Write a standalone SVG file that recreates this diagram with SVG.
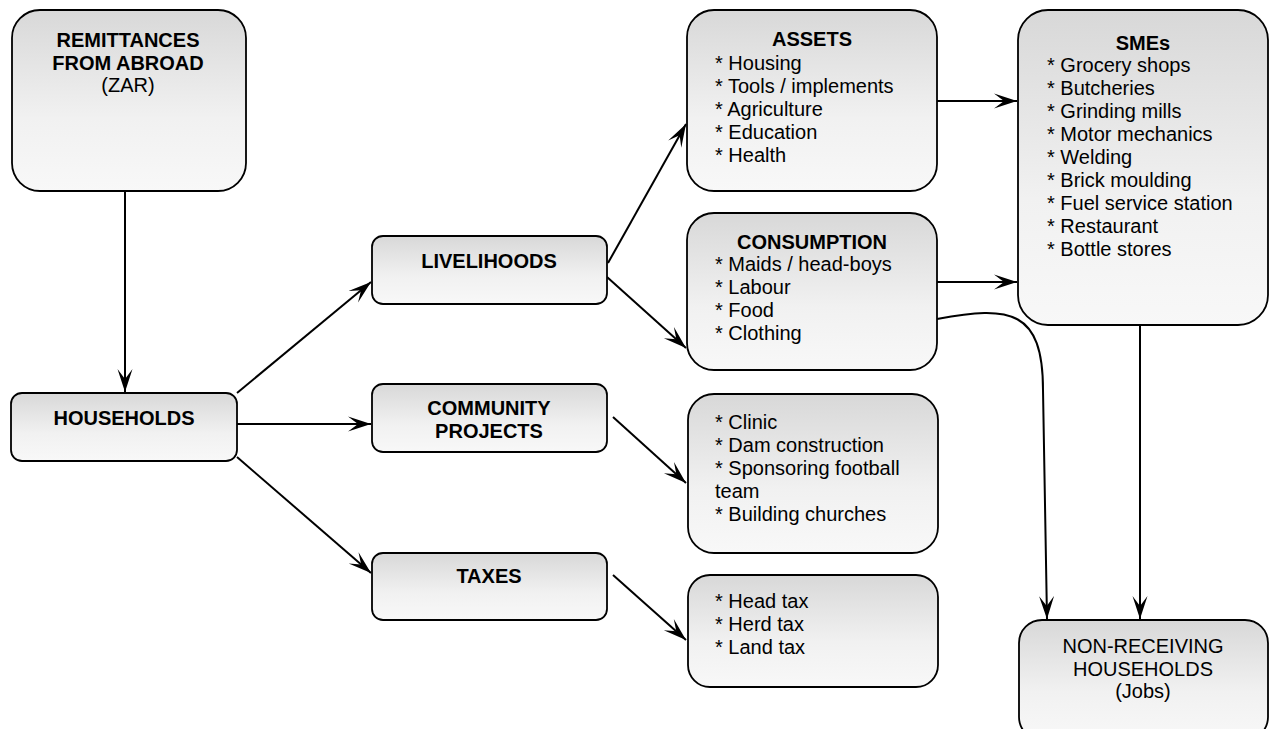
<svg xmlns="http://www.w3.org/2000/svg" width="1273" height="729" viewBox="0 0 1273 729">
<style>
.box{fill:url(#g);stroke:#000;stroke-width:1.8}
.t{font-family:"Liberation Sans",Arial,sans-serif;font-size:20px;fill:#000}
.b{font-weight:bold;text-anchor:middle}
.c{text-anchor:middle}
.ln{fill:none;stroke:#000;stroke-width:2;marker-end:url(#ah)}
</style>
<defs>
<linearGradient id="g" x1="0" y1="0" x2="0" y2="1">
<stop offset="0" stop-color="#d8d8d8"/>
<stop offset="0.6" stop-color="#f1f1f1"/>
<stop offset="1" stop-color="#f8f8f8"/>
</linearGradient>
<marker id="ah" markerUnits="userSpaceOnUse" markerWidth="26" markerHeight="18" refX="23" refY="8" orient="auto" viewBox="0 0 26 16">
<path d="M23,8 L0,0.5 L10,8 L0,15.5 Z" fill="#000"/>
</marker>
</defs>
<g id="connectors">
<path class="ln" d="M125,191 L125,392"/>
<path class="ln" d="M237,393 L371,282"/>
<path class="ln" d="M237,424 L371,424"/>
<path class="ln" d="M237,457 L371,573"/>
<path class="ln" d="M608,263 L686,124"/>
<path class="ln" d="M607,277 L686,348"/>
<path class="ln" d="M613,417 L686,483"/>
<path class="ln" d="M613,575 L686,640"/>
<path class="ln" d="M937,101 L1017,101"/>
<path class="ln" d="M937,282 L1017,282"/>
<path class="ln" d="M937,319 C1010,305 1043,310 1043,390 L1047,619"/>
<path class="ln" d="M1140,325 L1140,619"/>
</g>
<g id="remittances">
<rect class="box" x="12" y="10" width="234" height="181" rx="28"/>
<text class="t b" x="128" y="47">REMITTANCES</text>
<text class="t b" x="128" y="70">FROM ABROAD</text>
<text class="t c" x="128" y="92">(ZAR)</text>
</g>
<g id="households">
<rect class="box" x="11" y="393" width="226" height="68" rx="11"/>
<text class="t b" x="124" y="425">HOUSEHOLDS</text>
</g>
<g id="livelihoods">
<rect class="box" x="372" y="236" width="235" height="68" rx="11"/>
<text class="t b" x="489" y="268">LIVELIHOODS</text>
</g>
<g id="community">
<rect class="box" x="372" y="384" width="235" height="68" rx="11"/>
<text class="t b" x="489" y="415">COMMUNITY</text>
<text class="t b" x="489" y="438">PROJECTS</text>
</g>
<g id="taxes">
<rect class="box" x="372" y="553" width="235" height="67" rx="11"/>
<text class="t b" x="489" y="583">TAXES</text>
</g>
<g id="assets">
<rect class="box" x="687" y="10" width="250" height="181" rx="27"/>
<text class="t b" x="812" y="46">ASSETS</text>
<text class="t" x="715" y="70">* Housing</text>
<text class="t" x="715" y="93">* Tools / implements</text>
<text class="t" x="715" y="116">* Agriculture</text>
<text class="t" x="715" y="139">* Education</text>
<text class="t" x="715" y="162">* Health</text>
</g>
<g id="consumption">
<rect class="box" x="687" y="213" width="250" height="157" rx="27"/>
<text class="t b" x="812" y="249">CONSUMPTION</text>
<text class="t" x="715" y="271">* Maids / head-boys</text>
<text class="t" x="715" y="294">* Labour</text>
<text class="t" x="715" y="317">* Food</text>
<text class="t" x="715" y="340">* Clothing</text>
</g>
<g id="smes">
<rect class="box" x="1018" y="10" width="250" height="315" rx="30"/>
<text class="t b" x="1143" y="50">SMEs</text>
<text class="t" x="1047" y="72">* Grocery shops</text>
<text class="t" x="1047" y="95">* Butcheries</text>
<text class="t" x="1047" y="118">* Grinding mills</text>
<text class="t" x="1047" y="141">* Motor mechanics</text>
<text class="t" x="1047" y="164">* Welding</text>
<text class="t" x="1047" y="187">* Brick moulding</text>
<text class="t" x="1047" y="210">* Fuel service station</text>
<text class="t" x="1047" y="233">* Restaurant</text>
<text class="t" x="1047" y="256">* Bottle stores</text>
</g>
<g id="community-items">
<rect class="box" x="688" y="394" width="250" height="159" rx="26"/>
<text class="t" x="715" y="429">* Clinic</text>
<text class="t" x="715" y="452">* Dam construction</text>
<text class="t" x="715" y="475">* Sponsoring football</text>
<text class="t" x="715" y="498">team</text>
<text class="t" x="715" y="521">* Building churches</text>
</g>
<g id="tax-items">
<rect class="box" x="688" y="575" width="250" height="112" rx="22"/>
<text class="t" x="715" y="608">* Head tax</text>
<text class="t" x="715" y="631">* Herd tax</text>
<text class="t" x="715" y="654">* Land tax</text>
</g>
<g id="non-receiving">
<rect class="box" x="1019" y="620" width="249" height="120" rx="23"/>
<text class="t c" x="1143" y="653">NON-RECEIVING</text>
<text class="t c" x="1143" y="676">HOUSEHOLDS</text>
<text class="t c" x="1143" y="698">(Jobs)</text>
</g>
</svg>
